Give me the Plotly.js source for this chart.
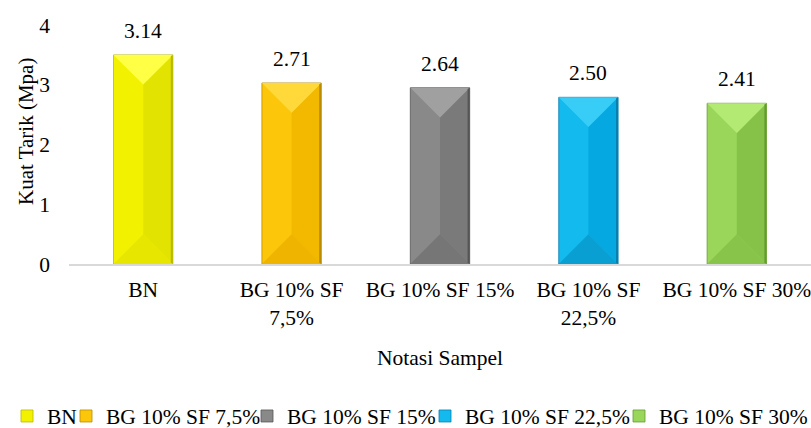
<!DOCTYPE html>
<html>
<head>
<meta charset="utf-8">
<script src="https://cdn.plot.ly/plotly-3.0.1.min.js"></script>
<style>html,body{margin:0;padding:0;background:#fff;}#chart{width:811px;height:428px;}</style>
</head>
<body>
<div id="chart"></div>
<script>
// ---- data ----
const categories = ["BN", "BG 10% SF 7,5%", "BG 10% SF 15%", "BG 10% SF 22,5%", "BG 10% SF 30%"];
const tickLabels = ["BN", "BG 10% SF<br>7,5%", "BG 10% SF 15%", "BG 10% SF<br>22,5%", "BG 10% SF 30%"];
// bar heights as drawn in the picture (Mpa)
const barHeights = [3.50, 3.03, 2.95, 2.79, 2.69];
// data labels printed above the bars
const valueLabels = ["3.14", "2.71", "2.64", "2.50", "2.41"];
const yTicks = [0, 1, 2, 3, 4];

// ---- style ----
const baseColors  = ["#f2f200", "#fcc70a", "#898989", "#12baee", "#99d65a"];
const rightColors = ["#e3e300", "#f2b900", "#7a7a7a", "#05a8e0", "#86c248"];
const topColors   = ["#ffff45", "#ffd83a", "#a0a0a0", "#38cdf7", "#b3ea74"];
const botColors   = ["#e6e600", "#eeb400", "#767676", "#0a9fd2", "#88c44a"];
const edgeColors  = ["#b8b800", "#b98c00", "#555555", "#0a7fae", "#649a34"];
const legendTextLeft = [48, 107, 288, 466, 660]; // px where legend texts begin

const FONT = "Liberation Serif";
const FS = 21.5;
const W = 811, H = 428, ML = 69, MR = 0, MT = 25, MB = 164;
const PW = W - ML - MR, PH = H - MT - MB;
const BW = 0.4, HALF = BW / 2;
const xRange = [-0.5, categories.length - 0.5];
const yRange = [0, 4];
// bevel depth in y units equal to half bar width in pixels
const pxPerCat = PW / (xRange[1] - xRange[0]);
const pxPerY = PH / (yRange[1] - yRange[0]);
const D = HALF * pxPerCat / pxPerY;

const xIdx = categories.map((c, i) => i);
const legendKeys = categories.map((c, i) => i === 0 ? "legend" : "legend" + (i + 1));

const traces = [];
categories.forEach((c, i) => {
  traces.push({
    type: "bar", name: c, x: [xIdx[i]], y: [barHeights[i]], width: BW,
    legend: legendKeys[i],
    marker: {color: baseColors[i], line: {color: edgeColors[i], width: 0.8}},
    hoverinfo: "none"
  });
});
function poly(xs, ys, color) {
  traces.push({type: "scatter", mode: "lines", x: xs, y: ys, fill: "toself",
    fillcolor: color, line: {width: 0, color: color}, showlegend: false, hoverinfo: "none"});
}
categories.forEach((c, i) => {
  const x = xIdx[i], h = barHeights[i];
  poly([x, x + HALF, x + HALF, x, x], [h - D, h, 0, D, h - D], rightColors[i]);
  poly([x - HALF, x + HALF, x, x - HALF], [h, h, h - D, h], topColors[i]);
  poly([x - HALF, x + HALF, x, x - HALF], [0, 0, D, 0], botColors[i]);
  poly([x + HALF * 0.93, x + HALF, x + HALF, x + HALF * 0.93, x + HALF * 0.93], [h - 0.02, h, 0, 0.02, h - 0.02], edgeColors[i]);
});

const annotations = categories.map((c, i) => ({
  x: xIdx[i], y: barHeights[i], xref: "x", yref: "y",
  text: valueLabels[i], showarrow: false,
  yanchor: "bottom", yshift: 10,
  font: {family: FONT, size: FS, color: "#000"}
}));
annotations.push({
  text: "Kuat Tarik (Mpa)", textangle: -90, showarrow: false,
  xref: "paper", yref: "paper", x: (26 - ML) / PW, y: (MT + PH - 132) / PH,
  xanchor: "center", yanchor: "middle",
  font: {family: FONT, size: 21, color: "#000"}
});
annotations.push({
  text: "Notasi Sampel", showarrow: false,
  xref: "paper", yref: "paper", x: 0.5, y: (MT + PH - 358) / PH,
  xanchor: "center", yanchor: "middle",
  font: {family: FONT, size: FS, color: "#000"}
});

const layout = {
  width: W, height: H,
  margin: {l: ML, r: MR, t: MT, b: MB, autoexpand: false},
  paper_bgcolor: "#fff", plot_bgcolor: "#fff",
  barmode: "overlay",
  font: {family: FONT, size: FS, color: "#000"},
  xaxis: {
    range: xRange, tickvals: xIdx, ticktext: tickLabels,
    showline: true, linecolor: "#d9d9d9", linewidth: 1.5,
    ticks: "", showgrid: false, zeroline: false,
    ticklabelstandoff: 6, automargin: false, ticklabeloverflow: "allow",
    tickfont: {family: FONT, size: FS, color: "#000"}
  },
  yaxis: {
    range: yRange, tickvals: yTicks,
    showgrid: false, zeroline: false, showline: false,
    ticks: "", ticklabelstandoff: 18, automargin: false,
    tickfont: {family: FONT, size: FS, color: "#000"}
  },
  annotations: annotations,
  showlegend: true
};

legendKeys.forEach((k, i) => {
  layout[k] = {
    orientation: "h",
    x: (legendTextLeft[i] - 41 - ML) / PW, xanchor: "left",
    y: (MT + PH - 416) / PH, yanchor: "middle",
    font: {family: FONT, size: FS, color: "#000"},
    itemwidth: 30, bgcolor: "rgba(0,0,0,0)"
  };
});

Plotly.newPlot("chart", traces, layout, {displayModeBar: false, staticPlot: true});
</script>
</body>
</html>
